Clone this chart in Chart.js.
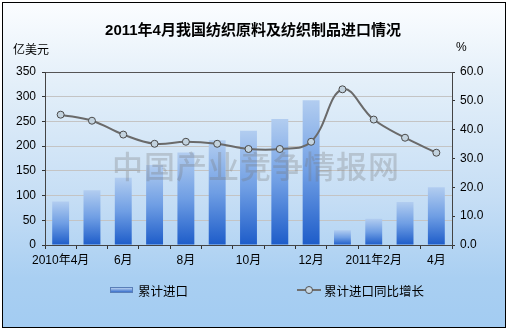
<!DOCTYPE html>
<html>
<head>
<meta charset="utf-8">
<script src="https://cdn.jsdelivr.net/npm/chart.js@4"></script>
<style>
  body { margin: 0; width: 510px; height: 331px; background: #fff; overflow: hidden; }
  #frame {
    position: absolute; left: 2px; top: 2px; width: 502px; height: 324px;
    border: 1px solid #000;
    background: linear-gradient(to bottom, #fbfdff 0%, #e3eff9 25%, #c6def5 60%, #a9cff2 85%, #a3ccf2 100%);
  }
  canvas { position: absolute; left: 0; top: 0; }
  .txt { position: absolute; font-family: "Liberation Sans", "Noto Sans CJK SC", sans-serif; color: #000; white-space: nowrap; }
  #title { left: 0; width: 506px; top: 18px; text-align: center; font-size: 15px; font-weight: bold; }
  #unitL { left: 13px; top: 40px; font-size: 12px; }
  #unitR { left: 456px; top: 40px; font-size: 12px; }
  #mark { left: 112px; top: 142px; font-size: 31px; font-weight: 500; letter-spacing: 1px;
          color: rgba(120, 120, 120, 0.3); font-family: "Noto Sans CJK SC", serif; pointer-events: none; }
  .leg { position: absolute; font-family: "Noto Sans CJK SC", sans-serif; font-size: 12.5px; top: 281px; }
  #swBar { position: absolute; left: 110px; top: 287px; width: 23px; height: 6px;
           background: linear-gradient(to bottom, #b8d0f0, #3a70cc); border: 1px solid #5a7fb8; box-sizing: border-box; }
  #swLine { position: absolute; left: 297px; top: 289px; width: 24px; height: 2px; background: #707070; }
  #swDot { position: absolute; left: 305px; top: 286px; width: 6px; height: 6px; border-radius: 50%;
           background: #c8d8e4; border: 1px solid #505050; }
</style>
</head>
<body>
<div id="frame"></div>
<canvas id="c" width="510" height="331"></canvas>
<div class="txt" id="title">2011年4月我国纺织原料及纺织制品进口情况</div>
<div class="txt" id="unitL">亿美元</div>
<div class="txt" id="unitR">%</div>
<div class="txt" id="mark">中国产业竞争情报网</div>
<div id="swBar"></div>
<div class="leg" style="left:138px">累计进口</div>
<div id="swLine"></div>
<div id="swDot"></div>
<div class="leg" style="left:324px">累计进口同比增长</div>
<script>
const months = ["2010年4月", "5月", "6月", "7月", "8月", "9月", "10月", "11月", "12月",
                "2011年1月", "2011年2月", "3月", "4月"];
const importValue = [88, 111, 136, 162, 187, 212, 231, 255, 293, 30, 53, 87, 117];
const importGrowth = [45.2, 43.1, 38.3, 35.1, 35.8, 35.1, 33.3, 33.3, 35.8, 54.0, 43.5, 37.2, 32.0];

const font = { family: "'Liberation Sans', 'Noto Sans CJK SC', sans-serif", size: 12 };

// each bar gets its own light-to-dark gradient
function barGradient(context) {
    const chart = context.chart;
    if (!chart.chartArea || context.type !== "data") return "#5a8ee0";
    const yScale = chart.scales.y;
    const top = yScale.getPixelForValue(context.raw);
    const bottom = yScale.getPixelForValue(0);
    const g = chart.ctx.createLinearGradient(0, top, 0, bottom);
    g.addColorStop(0, "#b2cdf0");
    g.addColorStop(0.5, "#6f9ee4");
    g.addColorStop(1, "#1d5cc9");
    return g;
}

new Chart(document.getElementById("c").getContext("2d"), {
    data: {
        labels: months,
        datasets: [
            {
                type: "line",
                label: "累计进口同比增长",
                data: importGrowth,
                yAxisID: "y1",
                order: 0,
                borderColor: "#6a6a6a",
                borderWidth: 2,
                tension: 0.4,
                pointRadius: 3.5,
                pointBackgroundColor: "#c3d3df",
                pointBorderColor: "#4a4a4a",
                pointBorderWidth: 1,
            },
            {
                type: "bar",
                label: "累计进口",
                data: importValue,
                yAxisID: "y",
                order: 1,
                backgroundColor: barGradient,
                barPercentage: 0.54,
                categoryPercentage: 1,
            },
        ],
    },
    options: {
        responsive: false,
        devicePixelRatio: 1,
        animation: false,
        layout: { padding: { left: 0, right: 0, top: 72, bottom: 0 } },
        plugins: { legend: { display: false }, title: { display: false }, tooltip: { enabled: false } },
        scales: {
            x: {
                offset: true,
                afterFit: (s) => { s.height = 86; },
                grid: { offset: true, drawOnChartArea: false, tickLength: 4, tickColor: "#333" },
                border: { color: "#444" },
                ticks: {
                    font: font, color: "#000", padding: 4, maxRotation: 0, autoSkip: false,
                    callback: function (v, i) { return i % 2 === 0 ? this.getLabelForValue(v) : ""; },
                },
            },
            y: {
                position: "left",
                min: 0, max: 350,
                afterFit: (s) => { s.width = 45; },
                grid: {
                    color: (c) => (c.tick && c.tick.value === 350 ? "#555" : "#c4c4c4"),
                    tickLength: 3, tickColor: "#333",
                },
                border: { color: "#444" },
                ticks: { stepSize: 50, font: font, color: "#000", padding: 6 },
            },
            y1: {
                position: "right",
                min: 0, max: 60,
                afterFit: (s) => { s.width = 58; },
                grid: { drawOnChartArea: false, tickLength: 3, tickColor: "#333" },
                border: { color: "#444" },
                ticks: { stepSize: 10, font: font, color: "#000", padding: 5, callback: (v) => v.toFixed(1) },
            },
        },
    },
});
</script>
</body>
</html>
